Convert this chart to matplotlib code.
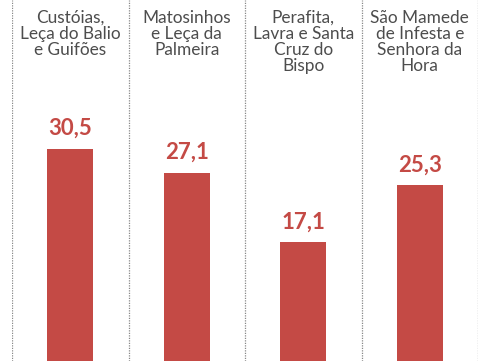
import matplotlib.pyplot as plt

# Freguesias do concelho de Matosinhos e valor de cada uma
freguesias = [
    "Custóias,\nLeça do Balio\ne Guifões",
    "Matosinhos\ne Leça da\nPalmeira",
    "Perafita,\nLavra e Santa\nCruz do\nBispo",
    "São Mamede\nde Infesta e\nSenhora da\nHora",
]
valores = [30.5, 27.1, 17.1, 25.3]
rotulos = ["30,5", "27,1", "17,1", "25,3"]

vermelho = "#C44A45"
cinza = "#4D4D4D"

fig = plt.figure(figsize=(4.82, 3.61), dpi=100)
ax = fig.add_axes([12 / 482, 0, 466 / 482, 1])

x = range(len(valores))
ax.bar(x, valores, width=0.395, color=vermelho, zorder=2)

# separadores pontilhados entre colunas
for b in [-0.5, 0.5, 1.5, 2.5, 3.5]:
    ax.axvline(b, color="#888888", lw=0.9, ls=(0, (1, 1)), zorder=1)

for i, (v, r) in enumerate(zip(valores, rotulos)):
    ax.annotate(r, (i, v), xytext=(0, 7), textcoords="offset points",
                ha="center", va="bottom", color=vermelho,
                fontsize=16, fontweight="bold", family="Lato")

for i, nome in enumerate(freguesias):
    ax.text(i, 0.972, nome, transform=ax.get_xaxis_transform(),
            ha="center", va="top", color=cinza, fontsize=12.4,
            family="Lato", linespacing=1.0)

ax.set_xlim(-0.5, 3.5)
ax.set_ylim(0, 51.9)
ax.axis("off")

fig.savefig("out.png", dpi=100)
